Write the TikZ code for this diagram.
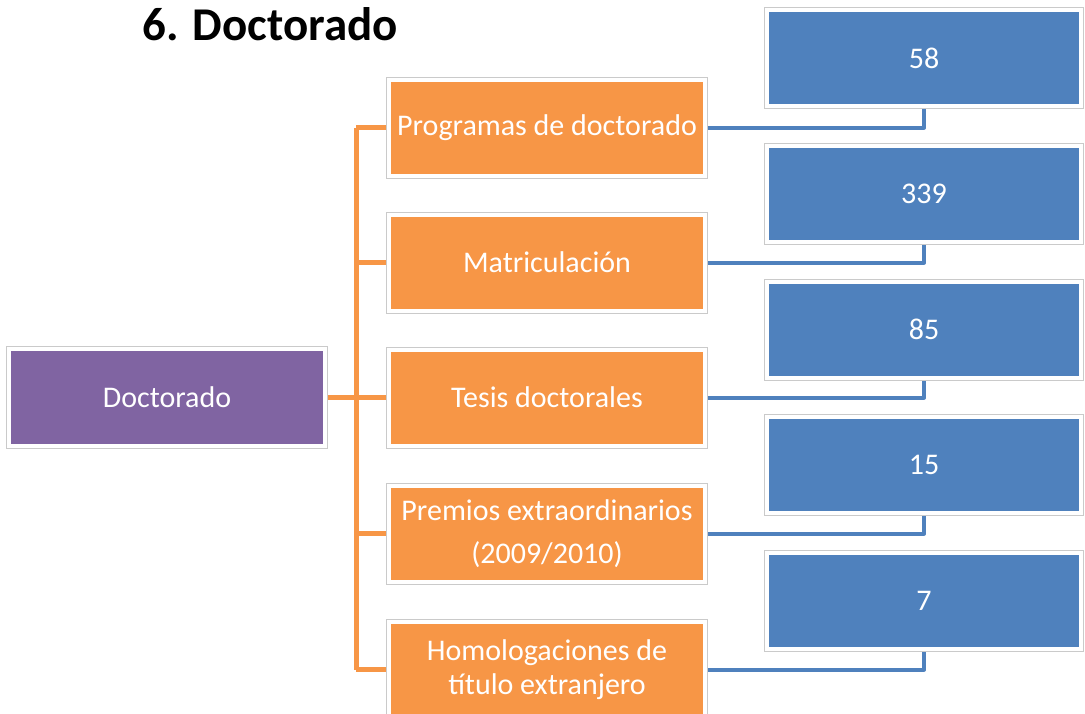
\documentclass[tikz,border=0pt]{standalone}
\usepackage{fontspec}
\setmainfont{Carlito}
\usetikzlibrary{backgrounds}
\definecolor{orng}{HTML}{F79646}
\definecolor{blu}{HTML}{4F81BD}
\definecolor{purp}{HTML}{8064A2}
\definecolor{boxgray}{HTML}{CACACA}
\begin{document}
\begin{tikzpicture}[x=1pt,y=-1pt,
  box/.style={preaction={draw=boxgray,line width=6pt}, draw=white, line width=4pt,
    minimum height=96pt, inner sep=0pt, text=white,
    font=\fontsize{30}{36}\selectfont, align=center},
  obox/.style={box, fill=orng, minimum width=316pt},
  bbox/.style={box, fill=blu, minimum width=314pt},
  pbox/.style={box, fill=purp, minimum width=316pt, minimum height=97pt},
  oline/.style={draw=orng, line width=5pt, line join=round},
  bline/.style={draw=blu, line width=4pt, line join=round}]
\useasboundingbox (0,0) rectangle (1085,713);
\node[font=\fontsize{47}{56}\selectfont\bfseries, anchor=base] (title) at (270,40) {6. Doctorado};
\node[pbox] (root) at (167,397.5) {Doctorado};
\node[obox] (o1) at (547,127.5) {Programas de doctorado};
\node[obox] (o2) at (547,262.5) {Matriculación};
\node[obox] (o3) at (547,397.5) {Tesis doctorales};
\node[obox] (o4) at (547,533.5) {Premios extraordinarios\\[7pt](2009/2010)};
\node[obox] (o5) at (547,669.5) {Homologaciones de\\[-2pt]título extranjero};
\node[bbox] (b1) at (924,58) {58};
\node[bbox] (b2) at (924,194) {339};
\node[bbox] (b3) at (924,329.5) {85};
\node[bbox] (b4) at (924,465) {15};
\node[bbox] (b5) at (924,601) {7};
\coordinate (trunk) at (356,397.5);
\begin{pgfonlayer}{background}
\draw[oline] (root.east) -- (trunk);
\draw[oline] (trunk |- o1.west) -- (trunk |- o5.west);
\foreach \i in {1,...,5}{
  \draw[oline] (trunk |- o\i.west) -- (o\i.west);
  \draw[bline] (o\i.east) -| (b\i.south);
}
\end{pgfonlayer}
\end{tikzpicture}
\end{document}
